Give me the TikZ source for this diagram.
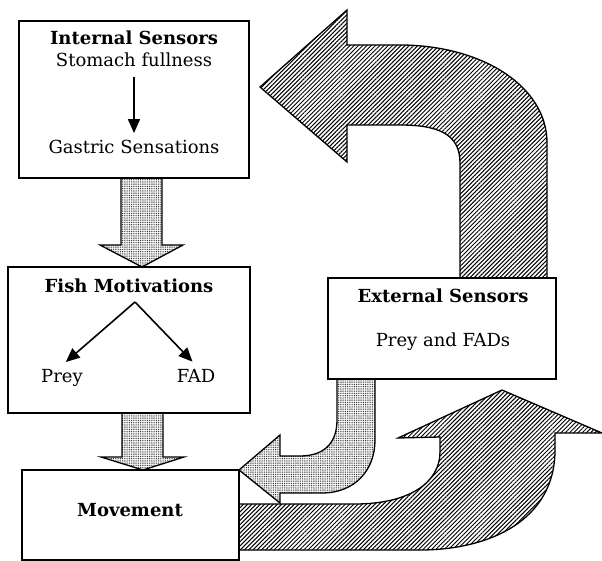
\documentclass[tikz,border=0pt]{standalone}
\usepackage{fontspec}
\setmainfont{DejaVu Serif}
\usetikzlibrary{arrows.meta, patterns.meta}

\begin{document}
\begin{tikzpicture}[x=1pt, y=-1pt, line join=miter,
    every node/.style={font=\fontsize{18}{21}\selectfont, anchor=base},
    box/.style={draw, line width=1.3pt, fill=white, anchor=center},
    stipple/.style={draw, line width=1.3pt, pattern={Dots[distance=1.8pt, radius=0.55pt]}, pattern color=black!85},
    hatch/.style={draw, line width=1.3pt, pattern={Lines[angle=45, distance=3pt, line width=1pt]}},
    link/.style={-{Triangle[length=14pt, width=12pt]}, line width=1.6pt}]
    \useasboundingbox (0,0) rectangle (602,561);

    % Feedback arrows
    \draw[hatch] (460,278) -- (460,163) .. controls (460,135) and (440,125) .. (400,125)
        -- (347,125) -- (347,162) -- (260,87) -- (347,10) -- (347,45) -- (400,45)
        .. controls (480,45) and (547,85) .. (547,143) -- (547,278) -- cycle;
    \draw[hatch] (239,504) -- (355,504) .. controls (410,504) and (440,482) .. (440,452)
        -- (440,437) -- (398,438) -- (502,390) -- (602,433) -- (555,433) -- (555,450)
        .. controls (555,520) and (490,550) .. (420,550) -- (239,550) -- cycle;
    \draw[stipple] (337,379) -- (337,420) .. controls (337,445) and (322,456) .. (300,456)
        -- (280,456) -- (280,435) -- (239,470) -- (280,503) -- (280,493) -- (322,493)
        .. controls (355,493) and (375,470) .. (375,440) -- (375,379) -- cycle;
    \draw[stipple] (121,178) -- (121,245) -- (100,245) -- (142,267) -- (183,245)
        -- (162,245) -- (162,178) -- cycle;
    \draw[stipple] (122,413) -- (122,457) -- (101,457) -- (143,470) -- (184,457)
        -- (163,457) -- (163,413) -- cycle;

    % Internal sensors
    \node[box, minimum width=230, minimum height=157] (internal) at (134,99.5) {};
    \node (intlabel) at (134,45) {\bfseries Internal Sensors};
    \node (stomach) at (134,67) {Stomach fullness};
    \node (gastric) at (134,154) {Gastric Sensations};
    \draw[link, shorten <=6pt, shorten >=4pt] (stomach) -- (gastric);

    % Fish motivations
    \node[box, minimum width=242, minimum height=146] (motiv) at (129,340) {};
    \node (fish) at (129,292) {\bfseries Fish Motivations};
    \coordinate (fork) at (135,302);
    \node (prey) at (62,382) {Prey};
    \node (fad) at (196,382) {FAD};
    \draw[link, shorten >=5pt] (fork) -- (prey.north);
    \draw[link, shorten >=5pt] (fork) -- (fad.north);

    % Movement
    \node[box, minimum width=217, minimum height=90] (move) at (130.5,515) {};
    \node (movelabel) at (130,516) {\bfseries Movement};

    % External sensors
    \node[box, minimum width=228, minimum height=101] (external) at (442,328.5) {};
    \node (extlabel) at (443,302) {\bfseries External Sensors};
    \node (preyfads) at (443,346) {Prey and FADs};
\end{tikzpicture}
\end{document}
